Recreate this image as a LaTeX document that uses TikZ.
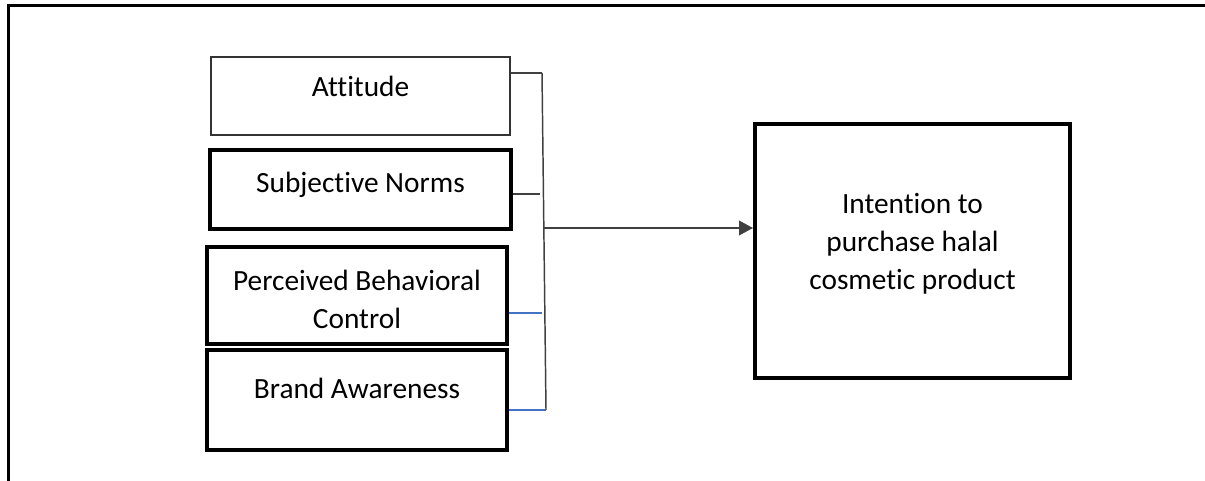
\documentclass[tikz,border=0pt]{standalone}
\usepackage{fontspec}
\setmainfont{Carlito}[Ligatures=NoCommon]
\usetikzlibrary{arrows.meta}
\definecolor{linkgrey}{HTML}{404040}
\definecolor{linkblue}{HTML}{4472C4}
\begin{document}
\begin{tikzpicture}[x=0.75pt, y=-0.75pt]
    \tikzstyle{factor}=[draw, rectangle, line width=3pt, font=\fontsize{22}{28.5}\selectfont, align=center, inner sep=0pt];
    \tikzstyle{link}=[draw=linkgrey, line width=1.1pt];
    \useasboundingbox (0,0) rectangle (1205,481);
    \draw[line width=2.25pt] (1215,6) -- (8,6) -- (8,495);

    \node[factor, line width=1.5pt, draw=black!80, minimum width=224.25pt, minimum height=58.5pt, text height=15pt, text depth=13.5pt] (att) at (360.5,96) {Attitude};
    \node[factor, minimum width=225.75pt, minimum height=59.25pt, text height=15pt, text depth=11.25pt] (sn) at (360.5,189.5) {Subjective Norms};
    \node[factor, minimum width=225pt, minimum height=72.75pt, text height=49pt, text depth=0pt] (pbc) at (357,295.5) {Perceived Behavioral\\Control};
    \node[factor, minimum width=225pt, minimum height=75pt, text height=15pt, text depth=18pt] (ba) at (357,400) {Brand Awareness};
    \node[factor, minimum width=236.25pt, minimum height=190.5pt, text height=57pt, text depth=0pt] (int) at (912.5,251) {Intention to\\purchase halal\\cosmetic product};

    % bus between the factors and the outcome
    \coordinate (busTop) at (542,73);
    \coordinate (busBot) at (546,410);
    \coordinate (snEnd) at (540,194);
    \coordinate (pbcEnd) at (542,313);
    \coordinate (hub) at (543,228);

    \draw[link] (att.east |- busTop) -- (busTop);
    \draw[link] (sn.east |- snEnd) -- (snEnd);
    \draw[link, draw=linkblue] (pbc.east |- pbcEnd) -- (pbcEnd);
    \draw[link, draw=linkblue] (ba.east |- busBot) -- (busBot);
    \draw[link] (busTop) -- (busBot);
    \draw[link, -{Triangle[length=10.5pt, width=11pt]}] (hub) -- (hub -| int.west);
\end{tikzpicture}
\end{document}
